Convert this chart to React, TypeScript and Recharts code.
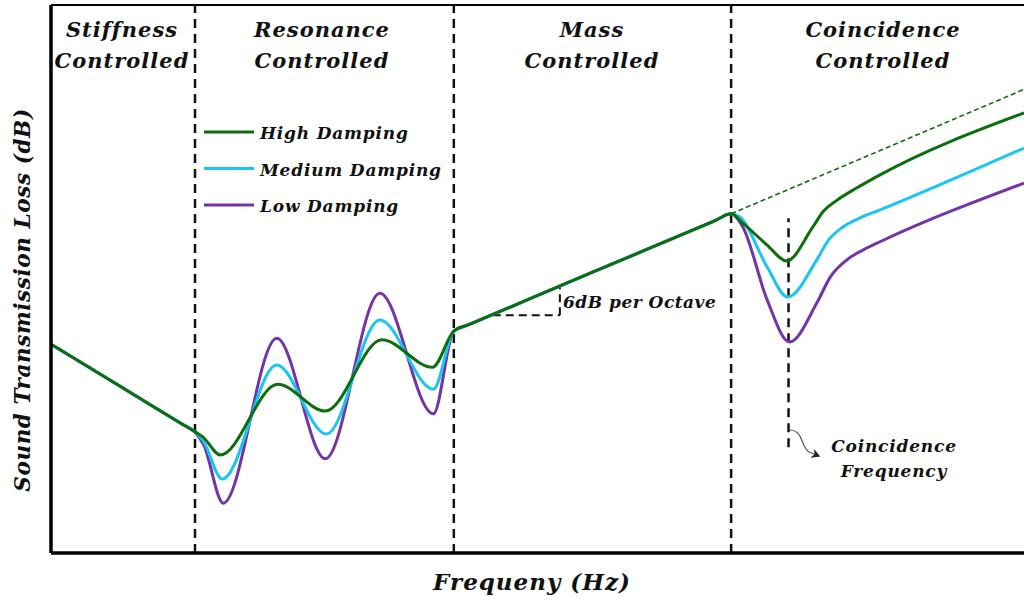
import React from 'react';
import { ComposedChart, Line, XAxis, YAxis, ReferenceLine } from 'recharts';

// frequency / transmission-loss are in relative units (0–100), no ticks drawn
const HIGH_F  = [0, 7.4, 13.5, 14.8, 15.6, 17.4, 23.3, 28.2, 34.0, 39.2, 41.4, 43.0, 55.6, 68.2, 69.9, 71.1, 73.6, 75.6, 78.3, 79.4, 80.8, 82.8, 85.2, 100];
const HIGH_TL = [38.1, 30.1, 23.5, 22.1, 21.2, 17.9, 30.8, 25.9, 38.9, 33.9, 40.5, 41.7, 51.2, 60.6, 61.9, 60.2, 56.2, 53.3, 59.5, 62.4, 64.4, 66.6, 69.0, 80.3];

const MED_F  = [0, 7.4, 13.5, 14.8, 15.6, 17.6, 23.2, 28.3, 33.8, 39.3, 41.4, 43.0, 55.6, 68.2, 69.9, 70.8, 73.6, 75.7, 78.7, 79.9, 81.4, 83.1, 85.2, 100];
const MED_TL = [38.1, 30.1, 23.5, 22.1, 20.6, 13.5, 34.3, 21.7, 42.5, 29.9, 40.5, 41.7, 51.2, 60.6, 61.9, 61.3, 52.2, 46.7, 53.5, 57.1, 59.5, 61.1, 62.6, 73.9];

const LOW_F  = [0, 7.4, 13.5, 14.8, 15.7, 17.7, 23.2, 28.2, 33.8, 39.3, 41.4, 43.0, 55.6, 68.2, 69.9, 71.1, 73.6, 75.9, 78.7, 80.1, 81.8, 83.9, 85.2, 100];
const LOW_TL = [38.1, 30.1, 23.5, 22.1, 19.7, 9.1, 39.2, 17.2, 47.4, 25.4, 40.5, 41.7, 51.2, 60.6, 61.9, 59.5, 46.2, 38.5, 45.6, 50.4, 53.5, 55.7, 56.8, 67.5];

// mass law continued past the coincidence region
const EXT_F  = [69.9, 100];
const EXT_TL = [61.9, 84.6];

const REGION_EDGES = [14.8, 41.4, 69.9];
const COINCIDENCE_F = 75.8;
const COINCIDENCE_SPAN = [19.3, 61.1];
const OCTAVE_F = [45.4, 52.3];
const OCTAVE_TL = [43.4, 48.6];

const GREEN  = '#0d6e0d';
const CYAN   = '#19c5f2';
const PURPLE = '#7434a8';

const LEGEND = [
  { label: 'High Damping',   color: GREEN },
  { label: 'Medium Damping', color: CYAN },
  { label: 'Low Damping',    color: PURPLE },
];

const REGIONS = [
  { x: 122, lines: ['Stiffness', 'Controlled'] },
  { x: 322, lines: ['Resonance', 'Controlled'] },
  { x: 592, lines: ['Mass', 'Controlled'] },
  { x: 883, lines: ['Coincidence', 'Controlled'] },
];

const zip = (f: number[], tl: number[]) => f.map((x, i) => ({ x, y: tl[i] }));

const FONT = "'DejaVu Serif', serif";
const DASH = '9 6';

export default function App() {
  const W = 1024, H = 603;
  const txt = { fontFamily: FONT, fontWeight: 'bold' as const, fontStyle: 'italic' as const, fill: '#111' };

  return (
    <div style={{ position: 'relative', width: W, height: H, background: '#fff' }}>
      <style>{'body{margin:0}'}</style>
      <ComposedChart width={W} height={H} margin={{ top: 5, right: 0, bottom: 50, left: 51 }}>
        <XAxis type="number" dataKey="x" domain={[0, 100]} hide allowDataOverflow />
        <YAxis type="number" dataKey="y" domain={[0, 100]} hide allowDataOverflow />

        {REGION_EDGES.map(f => (
          <ReferenceLine key={f} x={f} stroke="#111" strokeWidth={2.5} strokeDasharray={DASH} />
        ))}
        <ReferenceLine
          segment={[{ x: COINCIDENCE_F, y: COINCIDENCE_SPAN[0] }, { x: COINCIDENCE_F, y: COINCIDENCE_SPAN[1] }]}
          stroke="#111" strokeWidth={2.5} strokeDasharray={DASH}
        />
        <ReferenceLine
          segment={[{ x: OCTAVE_F[0], y: OCTAVE_TL[0] }, { x: OCTAVE_F[1], y: OCTAVE_TL[0] }]}
          stroke="#111" strokeWidth={2} strokeDasharray="8 5"
        />
        <ReferenceLine
          segment={[{ x: OCTAVE_F[1], y: OCTAVE_TL[0] }, { x: OCTAVE_F[1], y: OCTAVE_TL[1] }]}
          stroke="#111" strokeWidth={2} strokeDasharray="8 5"
        />

        <Line data={zip(EXT_F, EXT_TL)} dataKey="y" type="linear" stroke={GREEN} strokeWidth={1.6}
          strokeDasharray="5 3" dot={false} activeDot={false} isAnimationActive={false} />
        <Line data={zip(LOW_F, LOW_TL)} dataKey="y" type="monotone" stroke={PURPLE} strokeWidth={3}
          dot={false} activeDot={false} isAnimationActive={false} />
        <Line data={zip(MED_F, MED_TL)} dataKey="y" type="monotone" stroke={CYAN} strokeWidth={3}
          dot={false} activeDot={false} isAnimationActive={false} />
        <Line data={zip(HIGH_F, HIGH_TL)} dataKey="y" type="monotone" stroke={GREEN} strokeWidth={3}
          dot={false} activeDot={false} isAnimationActive={false} />

        {/* frame: left + bottom axes, thin top border */}
        <ReferenceLine x={0} stroke="#000" strokeWidth={3.5} />
        <ReferenceLine y={0} stroke="#000" strokeWidth={3.5} />
        <ReferenceLine y={100} stroke="#000" strokeWidth={2} />
      </ComposedChart>

      <svg width={W} height={H} style={{ position: 'absolute', left: 0, top: 0, pointerEvents: 'none' }}>
        <defs>
          <marker id="arrowHead" markerWidth="8" markerHeight="8" refX="6" refY="4" orient="auto">
            <path d="M0,0 L7,4 L0,8 L2,4 Z" fill="#222" />
          </marker>
        </defs>

        {REGIONS.map(r => (
          <g key={r.x}>
            <text x={r.x} y={37} textAnchor="middle" fontSize={21} letterSpacing={1} {...txt}>{r.lines[0]}</text>
            <text x={r.x} y={68} textAnchor="middle" fontSize={21} letterSpacing={1} {...txt}>{r.lines[1]}</text>
          </g>
        ))}

        {LEGEND.map((l, i) => (
          <g key={l.label}>
            <line x1={204} x2={254} y1={132 + i * 36.5} y2={132 + i * 36.5} stroke={l.color} strokeWidth={3} />
            <text x={260} y={139 + i * 36.5} fontSize={17} letterSpacing={0.8} {...txt}>{l.label}</text>
          </g>
        ))}

        <text x={563} y={308} fontSize={17} letterSpacing={0.5} {...txt}>6dB per Octave</text>

        <path d="M790,430 C804,431 800,446 809,452 L819,456" fill="none" stroke="#555" strokeWidth={1.2}
          markerEnd="url(#arrowHead)" />
        <text x={894} y={452} textAnchor="middle" fontSize={17} letterSpacing={0.8} {...txt}>Coincidence</text>
        <text x={894} y={477} textAnchor="middle" fontSize={17} letterSpacing={0.8} {...txt}>Frequency</text>

        <text x={532} y={590} textAnchor="middle" fontSize={23} letterSpacing={1} {...txt}>Frequeny (Hz)</text>
        <text transform="translate(30,300) rotate(-90)" textAnchor="middle" fontSize={21.5} letterSpacing={0.6} {...txt}>
          Sound Transmission Loss (dB)
        </text>
      </svg>
    </div>
  );
}
